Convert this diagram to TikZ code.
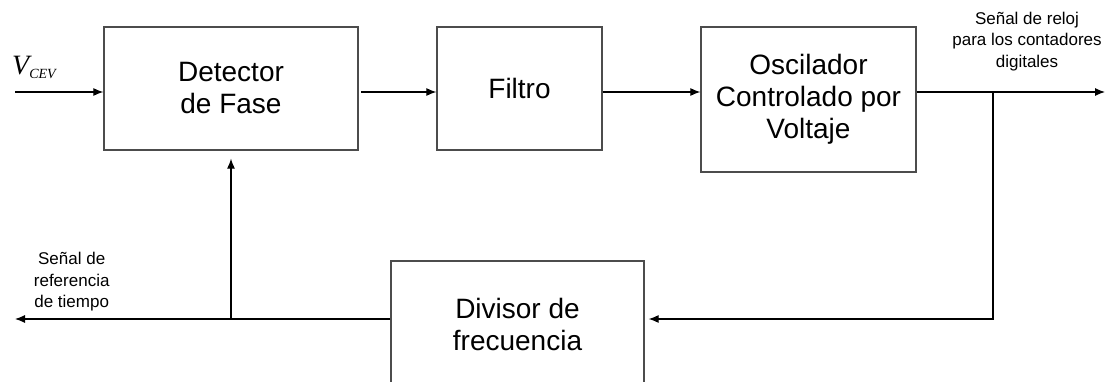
\documentclass[tikz,border=0pt]{standalone}
\usepackage{fontspec}
\setmainfont{Liberation Sans}
\newfontfamily\tnr{Liberation Serif}
\usetikzlibrary{arrows.meta}
\begin{document}
\begin{tikzpicture}[x=1pt,y=-1pt,
  blk/.style={draw=black!70,line width=1.3pt,inner sep=0pt,align=center,font=\fontsize{28}{32}\selectfont},
  lbl/.style={inner sep=0pt,align=center,font=\fontsize{17}{21.5}\selectfont},
  con/.style={line width=1.1pt,-{Latex[length=10pt,width=8pt]}}]
\useasboundingbox (0,0) rectangle (1107,382);
\clip (0,0) rectangle (1107,382);
\node[blk,minimum width=254pt,minimum height=123pt] (det) at (231,88.5) {Detector\\de Fase};
\node[blk,minimum width=165pt,minimum height=123pt] (fil) at (519.5,88.5) {Filtro};
\node[blk,minimum width=215pt,minimum height=145pt] (osc) at (808.5,99.5) {Oscilador\\Controlado por\\Voltaje};
\node[blk,minimum width=253pt,minimum height=126pt] (div) at (517.5,324) {Divisor de\\frecuencia};
\node[inner sep=0pt,anchor=base west] (vin) at (12,75) {\tnr\itshape\fontsize{28}{28}\selectfont V\raisebox{-3.5pt}{\fontsize{14}{14}\selectfont CEV}};
\node[lbl,anchor=north] (lout) at (1027,11.5) {Señal de reloj\\para los contadores\\digitales};
\node[lbl,anchor=north] (lref) at (71.7,252) {Señal de\\referencia\\de tiempo};
\coordinate (in) at (15,92);
\coordinate (out) at (1105,92);
\coordinate (br) at (993,92);
\coordinate (br2) at (993,319);
\coordinate (ref) at (15,319);
\coordinate (fb) at (231,319);
\draw[con] (in) -- (in -| det.west);
\draw[con] ([xshift=2.5pt]det.east |- in) -- (in -| fil.west);
\draw[con] (fil.east |- in) -- (in -| osc.west);
\draw[con] (osc.east |- in) -- (out);
\draw[con,shorten >=4pt] (br) -- (br2) -- (br2 -| div.east);
\draw[con] (ref -| div.west) -- (ref);
\draw[con,shorten >=8pt] (fb) -- (det.south);
\end{tikzpicture}
\end{document}
